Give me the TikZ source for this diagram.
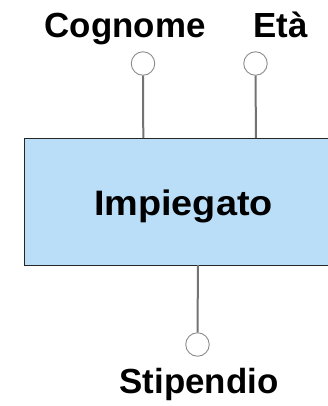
\documentclass[tikz,border=0pt]{standalone}
\usepackage{fontspec}
\setmainfont{Liberation Sans}
\newfontfamily\widefont[FakeStretch=1.07]{Liberation Sans}
\begin{document}
\begin{tikzpicture}[x=1bp,y=-1bp,
  lbl/.style={font=\bfseries\fontsize{35}{40}\selectfont, anchor=base, inner sep=0pt},
  ent/.style={draw=black!85, fill=entblue, line width=1bp},
  attr/.style={circle, draw=black!45, fill=white, line width=0.9bp, minimum size=23.5bp, inner sep=0pt},
  link/.style={draw=black!55, line width=2bp}]
\definecolor{entblue}{HTML}{BBDEF8}
\useasboundingbox (0,0) rectangle (328,406);
\begin{scope}
\clip (0,0) rectangle (328,406);
\node[ent, minimum width=316bp, minimum height=127bp, inner sep=0pt] (imp) at (183,201.5) {};
\end{scope}
\node[lbl, font=\widefont\bfseries\fontsize{35.5}{40}\selectfont] (impl) at (183.5,215) {Impiegato};
\node[attr] (c1) at (143,63.5) {};
\node[attr] (c2) at (255.5,63.5) {};
\node[attr] (c3) at (197.5,344.5) {};
\coordinate (t1) at (143.3,138);
\coordinate (t2) at (256,138);
\coordinate (b3) at (198,265);
\draw[link] (c1.south) -- (t1);
\draw[link] (c2.south) -- (t2);
\draw[link] (c3.north) -- (b3);
\node[lbl] (cog) at (125,37) {Cognome};
\node[lbl] (eta) at (280.5,37) {Età};
\node[lbl] (sti) at (199,393) {Stipendio};
\end{tikzpicture}
\end{document}
